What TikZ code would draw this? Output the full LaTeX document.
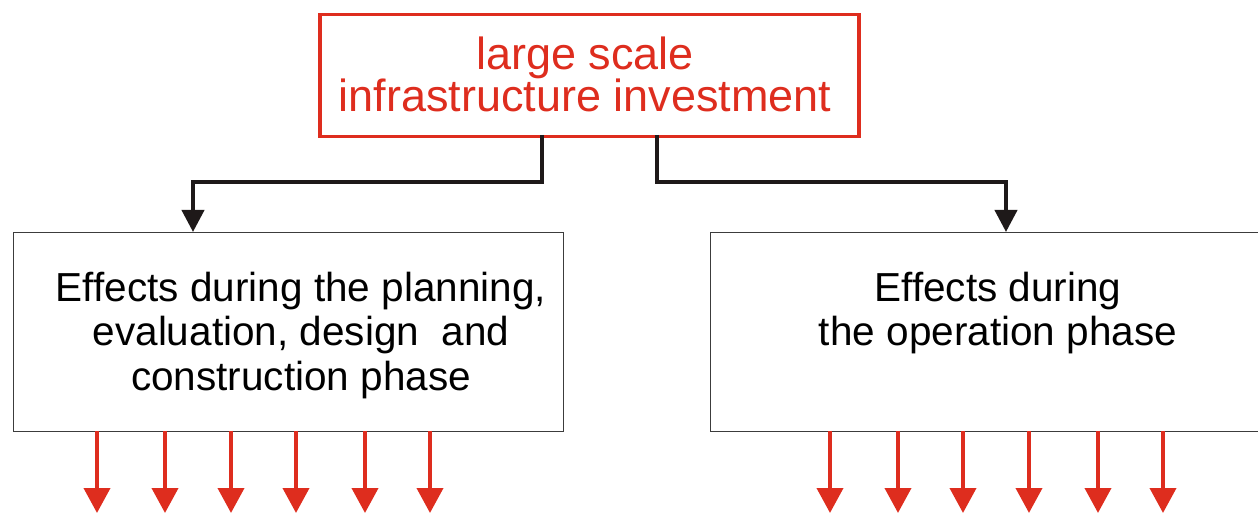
\documentclass[tikz,border=0pt]{standalone}
\usepackage{fontspec}
\setmainfont{Liberation Sans}
\usetikzlibrary{arrows.meta}
\definecolor{cred}{RGB}{222,45,30}
\definecolor{cblack}{RGB}{30,25,25}
\definecolor{cgray}{RGB}{60,60,60}
\begin{document}
\begin{tikzpicture}[x=1bp,y=-1bp,
  txt/.style={font=\fontsize{40.5bp}{44bp}\selectfont, align=center, inner sep=0pt},
  toptxtstyle/.style={font=\fontsize{45bp}{42bp}\selectfont, align=center, inner sep=0pt, text=cred},
  topbox/.style={draw=cred, line width=3.5bp, anchor=north west, inner sep=0pt},
  effbox/.style={draw=cgray, line width=1.4bp, fill=white, anchor=north west, inner sep=0pt},
  link/.style={draw=cblack, line width=4bp, -{Triangle[width=22bp,length=22bp]}},
  outarrow/.style={draw=cred, line width=4bp, -{Triangle[width=26bp,length=25bp]}}]
\useasboundingbox (0,0) rectangle (1258,513);
\node[topbox, minimum width=539bp, minimum height=122bp] (top) at (318,13) {};
\node[toptxtstyle, anchor=base] (toptxt) at (585,112) {large scale\\infrastructure investment};
\node[effbox, minimum width=550bp, minimum height=199bp] (left) at (13,232) {};
\node[effbox, minimum width=552bp, minimum height=199bp] (right) at (710,232) {};
\node[txt, anchor=base] (lefttxt) at (301,390) {Effects during the planning,\\evaluation, design\ \ and\\construction phase};
\node[txt, anchor=base] (righttxt) at (998,346) {Effects during\\the operation phase};
% connectors
\coordinate (lt) at (542,135);
\coordinate (rt) at (657,135);
\draw[link] (lt) -- (542,182) -- (193,182) -- (193,232);
\draw[link] (rt) -- (657,182) -- (1006,182) -- (1006,232);
% outputs
\foreach \x [count=\i] in {97,165,231,296,365,430} {
  \coordinate (lo\i) at (\x,513);
  \draw[outarrow] (\x,431) -- (lo\i);
}
\foreach \x [count=\i] in {830,898,963,1029,1098,1163} {
  \coordinate (ro\i) at (\x,513);
  \draw[outarrow] (\x,431) -- (ro\i);
}
\end{tikzpicture}
\end{document}
